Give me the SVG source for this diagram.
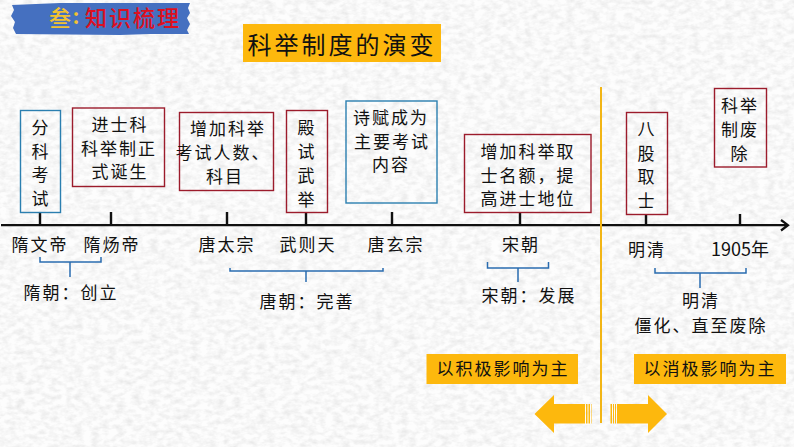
<svg xmlns="http://www.w3.org/2000/svg" width="794" height="447" viewBox="0 0 794 447">
<style>
text{font-family:"Noto Sans CJK SC","Noto Sans",sans-serif;fill:#111;text-anchor:middle}
.t{font-size:17px;letter-spacing:2px}
.n{font-size:17px;letter-spacing:2px}
.bx{fill:none;stroke-width:1.4}
.red{stroke:#9c1c2c}
.blue{stroke:#2b7fb0}
.ax{stroke:#111;stroke-width:2.2;fill:none}
.tk{stroke:#111;stroke-width:2.4}
.br{stroke:#2a6cb0;stroke-width:1.5;fill:none}
.gold{fill:#fdb80d}
.g{font-size:17px;letter-spacing:2px}
</style>
<defs>
<filter id="paper" x="0" y="0" width="100%" height="100%" color-interpolation-filters="sRGB">
<feTurbulence type="fractalNoise" baseFrequency="0.12 0.2" numOctaves="3" seed="4"/>
<feColorMatrix values="0 0 0 0 0.72  0 0 0 0 0.72  0 0 0 0 0.72  0.55 0 0 0 -0.2"/>
</filter>
</defs>
<rect width="794" height="447" fill="#fdfdfd"/>
<rect width="794" height="447" filter="url(#paper)"/>

<g id="header">
<path d="M12 5 L60 3 L190 3 L188 8 L190 13 L187 18 L190 24 L187 30 L189 34 L150 34 L120 35 L16 34 L13 28 L15 22 L11 16 L14 10Z" fill="#4570c0"/>
<text x="60" y="26" style="font-size:22px;fill:#f2c230;font-weight:500">叁</text>
<text x="76" y="24" style="font-size:20px;fill:#f2c230;font-weight:700">:</text>
<text x="133" y="26" style="font-size:22px;letter-spacing:2px;fill:#dc1020;font-weight:500">知识梳理</text>
</g>

<g id="title">
<rect x="243" y="24" width="198" height="38" fill="#fdb80d"/>
<text x="342" y="54" style="font-size:24px;letter-spacing:3px">科举制度的演变</text>
</g>

<g id="connectors">
<path class="ax" d="M1 225.200H788M781 220L788 225.200L781 230.500"/>
<path class="tk" d="M40 212V225M111 212V225M227 212V225M306 212V225M392 212V225M520 212V225M646 214V225M740 214V225"/>
<path class="br" d="M40 257V262H101V257M70 262V277"/>
<path class="br" d="M230 268V271H383V268M306 271V282"/>
<path class="br" d="M487.500 262V268H548.500V262M518 268V282"/>
<path class="br" d="M655 268V273H746V268M700 273V288"/>
<path d="M601 87V423" stroke="#f2b515" stroke-width="2" fill="none"/>
</g>

<g id="box-fenke"><rect class="bx blue" x="20.500" y="110.500" width="40" height="102"/>
<text class="t" x="41" y="134">分</text><text class="t" x="41" y="158">科</text><text class="t" x="41" y="181">考</text><text class="t" x="41" y="205">试</text></g>
<g id="box-jinshi"><rect class="bx red" x="72.500" y="108" width="92" height="78.500"/>
<text class="t" x="120" y="131">进士科</text><text class="t" x="119" y="155">科举制正</text><text class="t" x="120" y="178">式诞生</text></g>
<g id="box-zengjia"><rect class="bx red" x="179.500" y="112.500" width="94" height="78"/>
<text class="t" x="228" y="135">增加科举</text><text class="t" x="223" y="159">考试人数、</text><text class="t" x="225" y="183">科目</text></g>
<g id="box-dianshi"><rect class="bx red" x="286.500" y="110.500" width="41" height="102"/>
<text class="t" x="307" y="134">殿</text><text class="t" x="307" y="158">试</text><text class="t" x="307" y="182">武</text><text class="t" x="307" y="206">举</text></g>
<g id="box-shifu"><rect class="bx blue" x="346" y="101" width="91" height="102"/>
<text class="t" x="391" y="124">诗赋成为</text><text class="t" x="392" y="148">主要考试</text><text class="t" x="391" y="171">内容</text></g>
<g id="box-song"><rect class="bx red" x="464.500" y="134.500" width="126.500" height="78"/>
<text class="t" x="528" y="158">增加科举取</text><text class="t" x="528" y="182">士名额，提</text><text class="t" x="528" y="205">高进士地位</text></g>
<g id="box-bagu"><rect class="bx red" x="626.500" y="112.500" width="41" height="102"/>
<text class="t" x="647" y="135">八</text><text class="t" x="647" y="160">股</text><text class="t" x="647" y="183">取</text><text class="t" x="647" y="207">士</text></g>
<g id="box-feichu"><rect class="bx red" x="714.500" y="88.500" width="52" height="78.500"/>
<text class="t" x="740" y="112">科举</text><text class="t" x="740" y="136">制废</text><text class="t" x="740" y="160">除</text></g>

<g id="labels">
<text class="n" x="40" y="251">隋文帝</text>
<text class="n" x="112" y="251">隋炀帝</text>
<text class="n" x="227" y="251">唐太宗</text>
<text class="n" x="308" y="251">武则天</text>
<text class="n" x="396" y="251">唐玄宗</text>
<text class="n" x="521" y="251">宋朝</text>
<text class="n" x="647" y="256">明清</text>
<text x="740" y="256" style="font-size:18px">1905年</text>
<text class="n" x="71" y="299">隋朝：创立</text>
<text class="n" x="307" y="308">唐朝：完善</text>
<text class="n" x="529" y="302">宋朝：发展</text>
<text class="n" x="701" y="307">明清</text>
<text class="n" x="701" y="332">僵化、直至废除</text>
</g>

<g id="note-positive"><rect class="gold" x="426.500" y="354" width="151.500" height="30"/>
<text class="g" x="503" y="375">以积极影响为主</text></g>
<g id="note-negative"><rect class="gold" x="634" y="354" width="152" height="30"/>
<text class="g" x="710" y="375">以消极影响为主</text></g>

<g id="arrow-left">
<path class="gold" d="M534.500 414L554 395V404H585V423.500H554V433Z"/>
<path d="M586 404H587.500V423.500H586ZM588.500 404H590V423.500H588.500ZM591 404H591.500V423.500H591Z" class="gold"/>
</g>
<g id="arrow-right">
<path class="gold" d="M667 414L648 395V404H617V423.500H648V433Z"/>
<path d="M610.500 404H612V423.500H610.500ZM613 404H614V423.500H613ZM615 404H616V423.500H615Z" class="gold"/>
</g>
</svg>
